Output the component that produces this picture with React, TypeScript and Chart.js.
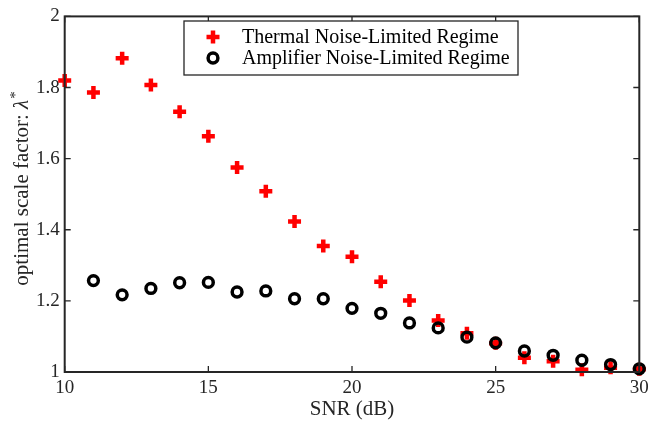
import React, { useEffect, useRef } from "react";
import { Chart, registerables } from "chart.js";

Chart.register(...registerables);

const snr = [10, 11, 12, 13, 14, 15, 16, 17, 18, 19, 20, 21, 22, 23, 24, 25, 26, 27, 28, 29, 30];
const thermal = [1.820, 1.786, 1.882, 1.807, 1.732, 1.663, 1.575, 1.508, 1.423, 1.354, 1.324, 1.254, 1.201, 1.145, 1.109, 1.081, 1.040, 1.030, 1.006, 1.012, 1.008];
const amplifierX = [11, 12, 13, 14, 15, 16, 17, 18, 19, 20, 21, 22, 23, 24, 25, 26, 27, 28, 29, 30];
const amplifier = [1.257, 1.217, 1.235, 1.251, 1.252, 1.225, 1.228, 1.206, 1.206, 1.179, 1.165, 1.138, 1.124, 1.098, 1.082, 1.059, 1.047, 1.033, 1.021, 1.009];
const xTicks = [10, 15, 20, 25, 30];
const yTicks = [1, 1.2, 1.4, 1.6, 1.8, 2];
const legendLabels = ["Thermal Noise-Limited Regime", "Amplifier Noise-Limited Regime"];

const AX = "#262626";
const FONT = "'Liberation Serif', serif";

const decorPlugin = {
  id: "decor",
  afterDatasetsDraw(chart: any) {
    const ctx = chart.ctx;
    const { left, right, top, bottom } = chart.chartArea;
    const xs = chart.scales.x;
    const ys = chart.scales.y;
    ctx.save();
    // inward ticks
    ctx.strokeStyle = AX;
    ctx.lineWidth = 1.3;
    const tl = 6;
    ctx.beginPath();
    xTicks.forEach((v) => {
      const px = xs.getPixelForValue(v);
      ctx.moveTo(px, bottom);
      ctx.lineTo(px, bottom - tl);
      ctx.moveTo(px, top);
      ctx.lineTo(px, top + tl);
    });
    yTicks.forEach((v) => {
      const py = ys.getPixelForValue(v);
      ctx.moveTo(left, py);
      ctx.lineTo(left + tl, py);
      ctx.moveTo(right, py);
      ctx.lineTo(right - tl, py);
    });
    ctx.stroke();
    // box
    ctx.lineWidth = 2;
    ctx.strokeRect(left, top, right - left, bottom - top);

    // legend
    const bx = 184, by = 21, bw = 334, bh = 54;
    ctx.fillStyle = "#ffffff";
    ctx.fillRect(bx, by, bw, bh);
    ctx.lineWidth = 1.3;
    ctx.strokeStyle = AX;
    ctx.strokeRect(bx, by, bw, bh);
    const rows = [37, 58];
    // plus
    ctx.strokeStyle = "#ff0000";
    ctx.lineWidth = 4.5;
    ctx.beginPath();
    ctx.moveTo(213 - 6.5, rows[0]);
    ctx.lineTo(213 + 6.5, rows[0]);
    ctx.moveTo(213, rows[0] - 6.5);
    ctx.lineTo(213, rows[0] + 6.5);
    ctx.stroke();
    // circle
    ctx.strokeStyle = "#000000";
    ctx.lineWidth = 3.5;
    ctx.beginPath();
    ctx.arc(213, rows[1], 4.9, 0, Math.PI * 2);
    ctx.stroke();
    ctx.fillStyle = "#000000";
    ctx.font = `20px ${FONT}`;
    ctx.textBaseline = "middle";
    ctx.textAlign = "left";
    legendLabels.forEach((t, i) => ctx.fillText(t, 242, rows[i] + 1));

    // x title
    ctx.fillStyle = AX;
    ctx.textAlign = "center";
    ctx.textBaseline = "alphabetic";
    ctx.font = `21px ${FONT}`;
    ctx.fillText("SNR (dB)", (left + right) / 2, 414.5);

    // y title with italic lambda and superscript star
    const p1 = "optimal scale factor: ";
    const p2 = "\u03bb";
    const p3 = "*";
    ctx.font = `21px ${FONT}`;
    const w1 = ctx.measureText(p1).width;
    ctx.font = `italic 21px ${FONT}`;
    const w2 = ctx.measureText(p2).width;
    ctx.font = `15px ${FONT}`;
    const w3 = ctx.measureText(p3).width;
    const total = w1 + w2 + w3 + 1;
    ctx.translate(28, 188.5);
    ctx.rotate(-Math.PI / 2);
    ctx.textAlign = "left";
    let x0 = -total / 2;
    ctx.font = `21px ${FONT}`;
    ctx.fillText(p1, x0, 0);
    x0 += w1;
    ctx.font = `italic 21px ${FONT}`;
    ctx.fillText(p2, x0, 0);
    x0 += w2 + 1;
    ctx.font = `15px ${FONT}`;
    ctx.fillText(p3, x0, -8);
    ctx.restore();
  },
};

export default function App() {
  const ref = useRef<HTMLCanvasElement | null>(null);
  useEffect(() => {
    if (!ref.current) return;
    const chart = new Chart(ref.current, {
      type: "scatter",
      data: {
        datasets: [
          {
            label: legendLabels[0],
            data: snr.map((x, i) => ({ x, y: thermal[i] })),
            pointStyle: "cross",
            radius: 6.5,
            borderWidth: 4.5,
            borderColor: "#ff0000",
            backgroundColor: "#ff0000",
            clip: false,
            order: 1,
          } as any,
          {
            label: legendLabels[1],
            data: amplifierX.map((x, i) => ({ x, y: amplifier[i] })),
            pointStyle: "circle",
            radius: 4.9,
            borderWidth: 3.5,
            borderColor: "#000000",
            backgroundColor: "rgba(0,0,0,0)",
            clip: false,
            order: 0,
          } as any,
        ],
      },
      options: {
        animation: false,
        responsive: false,
        events: [],
        layout: { padding: { top: 12.7, right: 29.7, left: 0, bottom: 0 } },
        plugins: { legend: { display: false }, tooltip: { enabled: false } },
        scales: {
          x: {
            type: "linear",
            min: 10,
            max: 30,
            afterFit: (s: any) => {
              s.height = 52;
            },
            afterBuildTicks: (s: any) => {
              s.ticks = xTicks.map((v) => ({ value: v }));
            },
            ticks: {
              color: AX,
              font: { family: FONT, size: 19 },
              padding: 5,
              maxRotation: 0,
              callback: (v: any) => String(v),
            },
            grid: { display: true, drawOnChartArea: false, drawTicks: false },
            border: { display: false },
          },
          y: {
            type: "linear",
            min: 1,
            max: 2,
            afterFit: (s: any) => {
              s.width = 64.7;
            },
            afterBuildTicks: (s: any) => {
              s.ticks = yTicks.map((v) => ({ value: v }));
            },
            ticks: {
              color: AX,
              font: { family: FONT, size: 19 },
              padding: 5,
              callback: (v: any) => String(Math.round(Number(v) * 10) / 10),
            },
            grid: { display: true, drawOnChartArea: false, drawTicks: false },
            border: { display: false },
          },
        },
      },
      plugins: [decorPlugin],
    });
    return () => chart.destroy();
  }, []);
  return (
    <div style={{ position: "fixed", left: 0, top: 0, width: 669, height: 424, background: "#fff" }}>
      <canvas ref={ref} width={669} height={424} style={{ width: 669, height: 424 }} />
    </div>
  );
}
